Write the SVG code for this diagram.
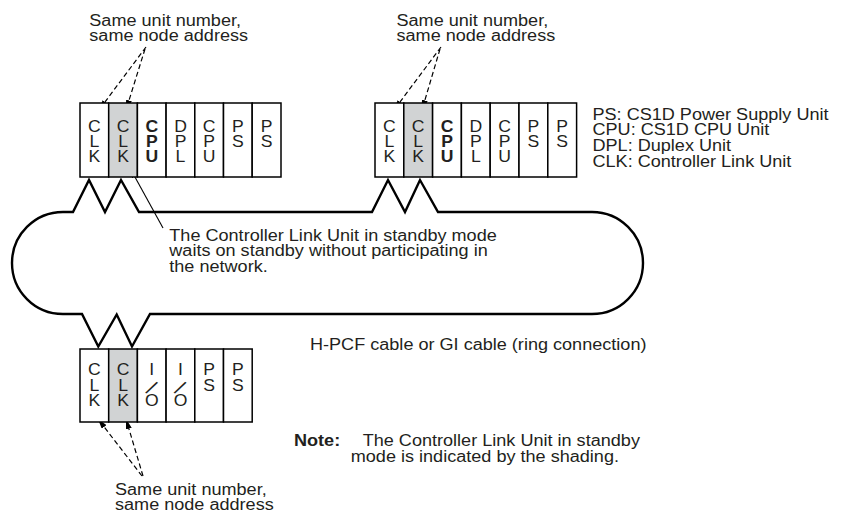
<svg xmlns="http://www.w3.org/2000/svg" width="843" height="519" viewBox="0 0 843 519">
<style>
.t{font-family:"Liberation Sans",Arial,Helvetica,sans-serif;font-size:16px;fill:#231f20}
.b{font-weight:bold}
.m{text-anchor:middle}
.box{fill:#fff;stroke:#000;stroke-width:1.5}
.sh{fill:#d1d3d4;stroke:#000;stroke-width:1.5}
.ring{fill:none;stroke:#000;stroke-width:2.4;stroke-linejoin:miter;stroke-miterlimit:10}
.dash{fill:none;stroke:#000;stroke-width:1.2;stroke-dasharray:5 3}
.lead{fill:none;stroke:#000;stroke-width:1.1}
</style>
<defs>
<marker id="ah" viewBox="0 0 10 6" refX="10" refY="3" markerWidth="10" markerHeight="6" markerUnits="userSpaceOnUse" orient="auto">
<path d="M0,0 L10,3 L0,6 Z" fill="#000"/>
</marker>
</defs>

<g id="connectors">
<path class="ring" d="M63,212 L73,212 L89,180 L105,212 L121,180 L139,212 L372,212 L388,180 L405,212 L420,180 L438,212 L592,212 A51,51 0 0 1 592,314 L150,314 L132,346.5 L116.7,314.5 L98.3,346.5 L82,314 L63,314 A51,51 0 0 1 63,212 Z"/>
<path class="dash" d="M146,47 L99,110" marker-end="url(#ah)"/>
<path class="dash" d="M145,49 L126,110" marker-end="url(#ah)"/>
<path class="dash" d="M441,47 L394,110" marker-end="url(#ah)"/>
<path class="dash" d="M440,49 L422,110" marker-end="url(#ah)"/>
<path class="dash" d="M142,476 L98,419" marker-end="url(#ah)"/>
<path class="dash" d="M143,476 L126,419" marker-end="url(#ah)"/>
<path class="lead" d="M163,228 L130,168" marker-end="url(#ah)"/>
</g>

<g id="rack-top-left">
<rect class="box" x="80" y="103" width="28.7" height="74"/>
<rect class="sh" x="108.7" y="103" width="28.7" height="74"/>
<rect class="box" x="137.4" y="103" width="28.7" height="74"/>
<rect class="box" x="166.1" y="103" width="28.7" height="74"/>
<rect class="box" x="194.8" y="103" width="28.7" height="74"/>
<rect class="box" x="223.5" y="103" width="28.7" height="74"/>
<rect class="box" x="252.2" y="103" width="28.8" height="74"/>
<text class="t m" transform="translate(94.4,131.7) scale(1.1,1)"><tspan x="0">C</tspan><tspan x="0" dy="15">L</tspan><tspan x="0" dy="15">K</tspan></text>
<text class="t m" transform="translate(123.1,131.7) scale(1.1,1)"><tspan x="0">C</tspan><tspan x="0" dy="15">L</tspan><tspan x="0" dy="15">K</tspan></text>
<text class="t m b" transform="translate(151.8,131.7) scale(1.1,1)"><tspan x="0">C</tspan><tspan x="0" dy="15">P</tspan><tspan x="0" dy="15">U</tspan></text>
<text class="t m" transform="translate(180.5,131.7) scale(1.1,1)"><tspan x="0">D</tspan><tspan x="0" dy="15">P</tspan><tspan x="0" dy="15">L</tspan></text>
<text class="t m" transform="translate(209.2,131.7) scale(1.1,1)"><tspan x="0">C</tspan><tspan x="0" dy="15">P</tspan><tspan x="0" dy="15">U</tspan></text>
<text class="t m" transform="translate(237.9,131.7) scale(1.1,1)"><tspan x="0">P</tspan><tspan x="0" dy="15">S</tspan></text>
<text class="t m" transform="translate(266.6,131.7) scale(1.1,1)"><tspan x="0">P</tspan><tspan x="0" dy="15">S</tspan></text>
</g>

<g id="rack-top-right">
<rect class="box" x="375" y="103" width="28.8" height="74"/>
<rect class="sh" x="403.8" y="103" width="28.8" height="74"/>
<rect class="box" x="432.6" y="103" width="28.8" height="74"/>
<rect class="box" x="461.4" y="103" width="28.8" height="74"/>
<rect class="box" x="490.2" y="103" width="28.8" height="74"/>
<rect class="box" x="519" y="103" width="28.8" height="74"/>
<rect class="box" x="547.8" y="103" width="28.8" height="74"/>
<text class="t m" transform="translate(389.4,131.7) scale(1.1,1)"><tspan x="0">C</tspan><tspan x="0" dy="15">L</tspan><tspan x="0" dy="15">K</tspan></text>
<text class="t m" transform="translate(418.2,131.7) scale(1.1,1)"><tspan x="0">C</tspan><tspan x="0" dy="15">L</tspan><tspan x="0" dy="15">K</tspan></text>
<text class="t m b" transform="translate(447,131.7) scale(1.1,1)"><tspan x="0">C</tspan><tspan x="0" dy="15">P</tspan><tspan x="0" dy="15">U</tspan></text>
<text class="t m" transform="translate(475.8,131.7) scale(1.1,1)"><tspan x="0">D</tspan><tspan x="0" dy="15">P</tspan><tspan x="0" dy="15">L</tspan></text>
<text class="t m" transform="translate(504.6,131.7) scale(1.1,1)"><tspan x="0">C</tspan><tspan x="0" dy="15">P</tspan><tspan x="0" dy="15">U</tspan></text>
<text class="t m" transform="translate(533.4,131.7) scale(1.1,1)"><tspan x="0">P</tspan><tspan x="0" dy="15">S</tspan></text>
<text class="t m" transform="translate(562.2,131.7) scale(1.1,1)"><tspan x="0">P</tspan><tspan x="0" dy="15">S</tspan></text>
</g>

<g id="rack-bottom">
<rect class="box" x="80" y="349" width="28.7" height="73"/>
<rect class="sh" x="108.7" y="349" width="28.7" height="73"/>
<rect class="box" x="137.4" y="349" width="28.7" height="73"/>
<rect class="box" x="166.1" y="349" width="28.7" height="73"/>
<rect class="box" x="194.8" y="349" width="28.7" height="73"/>
<rect class="box" x="223.5" y="349" width="28.7" height="73"/>
<text class="t m" transform="translate(94.4,375) scale(1.1,1)"><tspan x="0">C</tspan><tspan x="0" dy="15.7">L</tspan><tspan x="0" dy="15.7">K</tspan></text>
<text class="t m" transform="translate(123.1,375) scale(1.1,1)"><tspan x="0">C</tspan><tspan x="0" dy="15.7">L</tspan><tspan x="0" dy="15.7">K</tspan></text>
<text class="t m" transform="translate(151.8,375) scale(1.1,1)"><tspan x="0">I</tspan><tspan x="0" dy="31.4">O</tspan></text>
<text class="t m" transform="translate(151.3,388) rotate(32) scale(1.25,1.3)" y="5.5">/</text>
<text class="t m" transform="translate(180.5,375) scale(1.1,1)"><tspan x="0">I</tspan><tspan x="0" dy="31.4">O</tspan></text>
<text class="t m" transform="translate(180,388) rotate(32) scale(1.25,1.3)" y="5.5">/</text>
<text class="t m" transform="translate(209.2,375) scale(1.1,1)"><tspan x="0">P</tspan><tspan x="0" dy="15.7">S</tspan></text>
<text class="t m" transform="translate(237.9,375) scale(1.1,1)"><tspan x="0">P</tspan><tspan x="0" dy="15.7">S</tspan></text>
</g>

<g id="label-top-left">
<text class="t" transform="translate(89.3,25.5) scale(1.13,1)"><tspan x="0">Same unit number,</tspan><tspan x="0" dy="15.7">same node address</tspan></text>
</g>
<g id="label-top-right">
<text class="t" transform="translate(396.5,25.5) scale(1.13,1)"><tspan x="0">Same unit number,</tspan><tspan x="0" dy="15.7">same node address</tspan></text>
</g>
<g id="label-bottom">
<text class="t" transform="translate(115,494.5) scale(1.13,1)"><tspan x="0">Same unit number,</tspan><tspan x="0" dy="15.7">same node address</tspan></text>
</g>
<g id="legend">
<text class="t" transform="translate(592.5,119.5) scale(1.13,1)"><tspan x="0">PS: CS1D Power Supply Unit</tspan><tspan x="0" dy="15.7">CPU: CS1D CPU Unit</tspan><tspan x="0" dy="15.7">DPL: Duplex Unit</tspan><tspan x="0" dy="15.7">CLK: Controller Link Unit</tspan></text>
</g>
<g id="standby-note">
<text class="t" transform="translate(169.3,240.5) scale(1.13,1)"><tspan x="0">The Controller Link Unit in standby mode</tspan><tspan x="0" dy="15.7">waits on standby without participating in</tspan><tspan x="0" dy="15.7">the network.</tspan></text>
</g>
<g id="cable-label">
<text class="t" transform="translate(310,350) scale(1.13,1)">H-PCF cable or GI cable (ring connection)</text>
</g>
<g id="note">
<text class="t b" transform="translate(294,446) scale(1.13,1)">Note:</text>
<text class="t" transform="translate(362.7,446) scale(1.13,1)"><tspan x="0">The Controller Link Unit in standby</tspan><tspan x="-10.6" dy="15.7">mode is indicated by the shading.</tspan></text>
</g>
</svg>
